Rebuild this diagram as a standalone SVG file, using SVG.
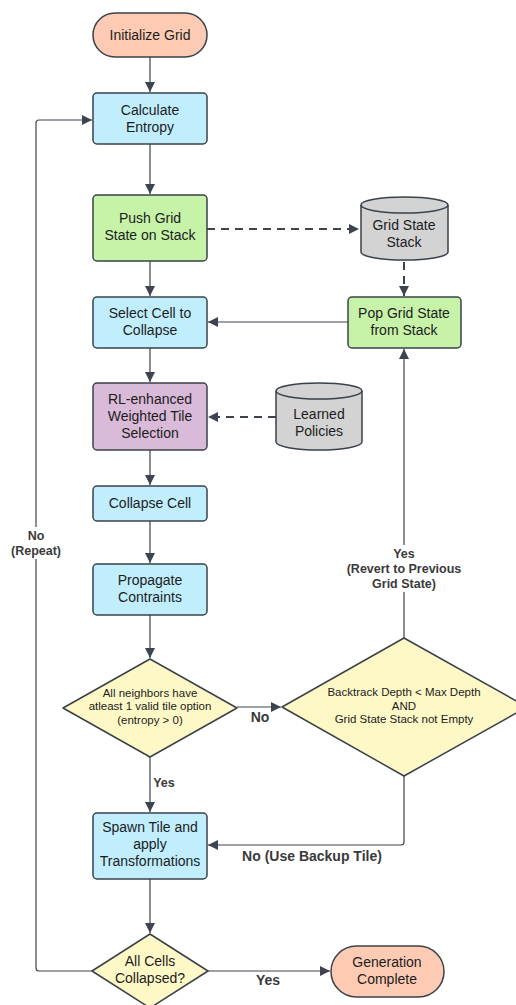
<svg xmlns="http://www.w3.org/2000/svg" width="516" height="1005" viewBox="0 0 516 1005">
<defs>
<style>
.n{stroke:#3a414a;stroke-width:1.5}
.t{font-family:"Liberation Sans",Arial,sans-serif;font-size:14px;fill:#1c1c1c;text-anchor:middle}
.d{font-family:"Liberation Sans",Arial,sans-serif;font-size:11.5px;fill:#1c1c1c;text-anchor:middle}
.l{font-family:"Liberation Sans",Arial,sans-serif;font-size:12.5px;font-weight:bold;fill:#3a3a3a;text-anchor:middle}
.lb{font-family:"Liberation Sans",Arial,sans-serif;font-size:14px;font-weight:bold;fill:#3a3a3a;text-anchor:middle}
.c{fill:none;stroke:#3d4450;stroke-width:1.2}
.dash{stroke-dasharray:8,6;stroke-width:2}
.term{fill:#fdcbb3}
.blue{fill:#c0eefc}
.green{fill:#c7f3a9}
.purple{fill:#d9bad8}
.grey{fill:#d3d3d3}
.yel{fill:#fef8c7}
</style>
<marker id="a" viewBox="0 0 10 10" refX="10" refY="5" markerWidth="10" markerHeight="10" markerUnits="userSpaceOnUse" orient="auto">
<path d="M0,0 L10,5 L0,10 Z" fill="#3d4450"/>
</marker>
</defs>

<g id="connectors">
<path class="c" d="M150,57 V92" marker-end="url(#a)"/>
<path class="c" d="M150,144 V194" marker-end="url(#a)"/>
<path class="c dash" d="M207,229 H359" marker-end="url(#a)"/>
<path class="c" d="M150,261 V296" marker-end="url(#a)"/>
<path class="c dash" d="M404,262 V296" marker-end="url(#a)"/>
<path class="c" d="M348,322 H208" marker-end="url(#a)"/>
<path class="c" d="M150,348 V382" marker-end="url(#a)"/>
<path class="c dash" d="M276,417 H208" marker-end="url(#a)"/>
<path class="c" d="M150,450 V485" marker-end="url(#a)"/>
<path class="c" d="M150,521 V563" marker-end="url(#a)"/>
<path class="c" d="M150,615 V658" marker-end="url(#a)"/>
<path class="c" d="M237,707 H281" marker-end="url(#a)"/>
<path class="c" d="M150,757 V812" marker-end="url(#a)"/>
<path class="c" d="M404,638 V349" marker-end="url(#a)"/>
<path class="c" d="M404,776 V842 Q404,845 401,845 H208" marker-end="url(#a)"/>
<path class="c" d="M150,879 V933" marker-end="url(#a)"/>
<path class="c" d="M208,971 H330" marker-end="url(#a)"/>
<path class="c" d="M92,971 H39 Q36,971 36,968 V123 Q36,120 39,120 H92" marker-end="url(#a)"/>
<rect x="0" y="527" width="72" height="32" fill="#fff"/>
<text class="l" x="36" y="540">No</text>
<text class="l" x="36" y="555">(Repeat)</text>
<rect x="340" y="545" width="128" height="47" fill="#fff"/>
<text class="l" x="404" y="558">Yes</text>
<text class="l" x="404" y="573">(Revert to Previous</text>
<text class="l" x="404" y="588">Grid State)</text>
<text class="lb" x="260" y="722">No</text>
<text class="l" x="164" y="787">Yes</text>
<text class="lb" x="312" y="861">No (Use Backup Tile)</text>
<text class="lb" x="268" y="985">Yes</text>
</g>

<g id="initialize-grid">
<rect class="n term" x="93" y="13" width="114" height="44" rx="22"/>
<text class="t" x="150" y="40">Initialize Grid</text>
</g>

<g id="calculate-entropy">
<rect class="n blue" x="93" y="93" width="114" height="51" rx="4"/>
<text class="t" x="150" y="115">Calculate</text>
<text class="t" x="150" y="132">Entropy</text>
</g>

<g id="push-grid-state">
<rect class="n green" x="93" y="195" width="114" height="66" rx="4"/>
<text class="t" x="150" y="223">Push Grid</text>
<text class="t" x="150" y="240">State on Stack</text>
</g>

<g id="grid-state-stack">
<path class="n grey" d="M361,205 A43.5,8 0 0 1 448,205 V252 A43.5,8 0 0 1 361,252 Z"/>
<path class="n" fill="none" d="M361,205 A43.5,8 0 0 0 448,205"/>
<text class="t" x="404" y="230">Grid State</text>
<text class="t" x="404" y="247">Stack</text>
</g>

<g id="pop-grid-state">
<rect class="n green" x="348" y="297" width="113" height="51" rx="4"/>
<text class="t" x="404" y="318">Pop Grid State</text>
<text class="t" x="404" y="335">from Stack</text>
</g>

<g id="select-cell">
<rect class="n blue" x="93" y="297" width="114" height="51" rx="4"/>
<text class="t" x="150" y="318">Select Cell to</text>
<text class="t" x="150" y="335">Collapse</text>
</g>

<g id="rl-selection">
<rect class="n purple" x="93" y="383" width="114" height="67" rx="4"/>
<text class="t" x="150" y="404">RL-enhanced</text>
<text class="t" x="150" y="421">Weighted Tile</text>
<text class="t" x="150" y="438">Selection</text>
</g>

<g id="learned-policies">
<path class="n grey" d="M276,391 A43,8 0 0 1 362,391 V442 A43,8 0 0 1 276,442 Z"/>
<path class="n" fill="none" d="M276,391 A43,8 0 0 0 362,391"/>
<text class="t" x="319" y="419">Learned</text>
<text class="t" x="319" y="436">Policies</text>
</g>

<g id="collapse-cell">
<rect class="n blue" x="93" y="486" width="114" height="35" rx="4"/>
<text class="t" x="150" y="508">Collapse Cell</text>
</g>

<g id="propagate">
<rect class="n blue" x="93" y="564" width="114" height="51" rx="4"/>
<text class="t" x="150" y="585">Propagate</text>
<text class="t" x="150" y="602">Contraints</text>
</g>

<g id="neighbors-check">
<path class="n yel" d="M150,659 L237,708 L150,757 L63,708 Z" stroke-linejoin="round"/>
<text class="d" x="150" y="697">All neighbors have</text>
<text class="d" x="150" y="710">atleast 1 valid tile option</text>
<text class="d" x="150" y="724">(entropy &gt; 0)</text>
</g>

<g id="backtrack-check">
<path class="n yel" d="M404,638 L527,707 L404,776 L282,707 Z" stroke-linejoin="round"/>
<text class="d" x="404" y="696">Backtrack Depth &lt; Max Depth</text>
<text class="d" x="404" y="710">AND</text>
<text class="d" x="404" y="723">Grid State Stack not Empty</text>
</g>

<g id="spawn-tile">
<rect class="n blue" x="93" y="813" width="114" height="66" rx="4"/>
<text class="t" x="150" y="832">Spawn Tile and</text>
<text class="t" x="150" y="849">apply</text>
<text class="t" x="150" y="866">Transformations</text>
</g>

<g id="all-collapsed">
<path class="n yel" d="M150,934 L208,971 L150,1008 L92,971 Z" stroke-linejoin="round"/>
<text class="t" x="150" y="966">All Cells</text>
<text class="t" x="150" y="983">Collapsed?</text>
</g>

<g id="generation-complete">
<rect class="n term" x="331" y="946" width="113" height="51" rx="25.5"/>
<text class="t" x="387" y="967">Generation</text>
<text class="t" x="387" y="984">Complete</text>
</g>
</svg>
